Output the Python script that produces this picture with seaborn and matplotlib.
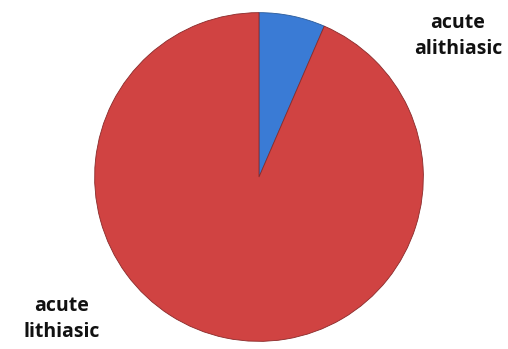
import matplotlib
matplotlib.use("Agg")
import matplotlib.pyplot as plt
import seaborn as sns

categories = ["acute alithiasic", "acute lithiasic"]
values = [6.5, 93.5]
colors = ["#3A7BD5", "#D04342"]

sns.set_theme(style="white")
plt.rcParams['font.family'] = ['Open Sans', 'DejaVu Sans']

fig = plt.figure(figsize=(5.08, 3.49), dpi=100)
W, H = 508, 349
cx, cy, r = 259, 177, 166
ax = fig.add_axes([(cx - r) / W, (H - cy - r) / H, 2 * r / W, 2 * r / H])
wedges, _ = ax.pie(values, colors=colors, startangle=90, counterclock=False,
                   radius=1, wedgeprops=dict(edgecolor="#8a2a2a", linewidth=0.6))
wedges[0].set_edgecolor("#2a5a9a")
ax.set_xlim(-1.01, 1.01)
ax.set_ylim(-1.01, 1.01)
ax.set_aspect("equal")
ax.axis("off")

fig.text(458 / W, 1 - 36 / H, "acute\nalithiasic", ha="center", va="center",
         fontsize=14, fontweight="bold", linespacing=1.45, color="#111111")
fig.text(62 / W, 1 - 319 / H, "acute\nlithiasic", ha="center", va="center",
         fontsize=14, fontweight="bold", linespacing=1.45, color="#111111")

fig.savefig("out.png", dpi=100)
